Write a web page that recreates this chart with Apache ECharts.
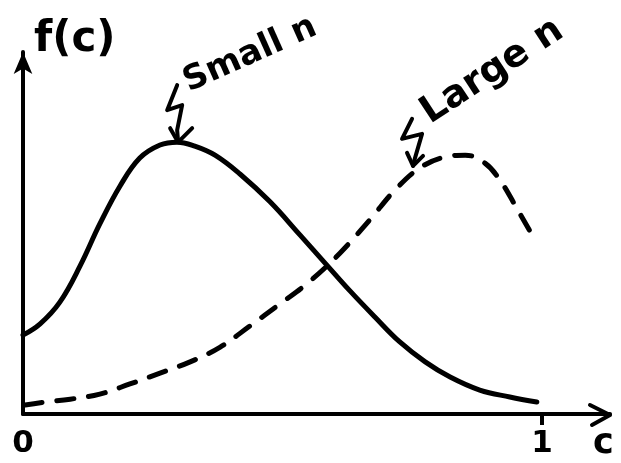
<!DOCTYPE html>
<html>
<head>
<meta charset="utf-8">
<script src="https://cdn.jsdelivr.net/npm/echarts@6/dist/echarts.min.js"></script>
<style>
  html, body { margin: 0; padding: 0; background: #fff; }
  #chart { width: 621px; height: 463px; }
</style>
</head>
<body>
<div id="chart"></div>
<script>
// Density f(c) for a small sample size (solid curve)
const smallC = [0, 0.033, 0.071, 0.110, 0.148, 0.187, 0.225, 0.264, 0.297, 0.331, 0.370, 0.418, 0.476, 0.534, 0.582, 0.630, 0.678, 0.726, 0.775, 0.823, 0.880, 0.938, 0.990];
const smallF = [0.218, 0.249, 0.309, 0.409, 0.525, 0.630, 0.707, 0.743, 0.751, 0.740, 0.715, 0.663, 0.586, 0.494, 0.417, 0.340, 0.268, 0.199, 0.144, 0.102, 0.066, 0.047, 0.033];

// Density f(c) for a large sample size (dashed curve)
const largeC = [0.004, 0.042, 0.091, 0.148, 0.206, 0.264, 0.322, 0.380, 0.437, 0.495, 0.553, 0.611, 0.668, 0.717, 0.765, 0.813, 0.852, 0.890, 0.919, 0.948, 0.983];
const largeF = [0.025, 0.033, 0.041, 0.055, 0.083, 0.113, 0.144, 0.185, 0.243, 0.304, 0.367, 0.445, 0.536, 0.619, 0.680, 0.710, 0.715, 0.693, 0.646, 0.577, 0.489];

// Axis ticks / labels on c
const cTicks = [0, 1];
const cTickLabels = ['0', '1'];
const cTickMarks = [1];
const cAxisEnd = 1.131;

const curveLabels = ['Small n', 'Large n'];

const pairs = (xs, ys) => xs.map((x, i) => [x, ys[i]]);
const smallData = pairs(smallC, smallF);
const largeData = pairs(largeC, largeF);

const ink = '#000';
const hand = '"DejaVu Sans", sans-serif';

const chart = echarts.init(document.getElementById('chart'), null, { renderer: 'canvas' });

chart.setOption({
  backgroundColor: '#fff',
  animation: false,
  grid: { left: 23, right: 11, top: 52, bottom: 49, containLabel: false },
  xAxis: {
    type: 'value',
    min: 0,
    max: cAxisEnd,
    name: 'c',
    nameLocation: 'end',
    nameGap: -17,
    nameTextStyle: {
      color: ink, fontFamily: hand, fontWeight: 'bold', fontSize: 35,
      align: 'left', verticalAlign: 'top', padding: [12, 0, 0, 0]
    },
    splitLine: { show: false },
    axisLine: {
      show: true,
      lineStyle: { color: ink, width: 4, cap: 'round' },
      symbol: ['none', 'none']
    },
    axisTick: {
      show: true,
      customValues: cTickMarks,
      length: 11,
      lineStyle: { color: ink, width: 4 }
    },
    axisLabel: {
      show: true,
      customValues: cTicks,
      formatter: v => cTickLabels[cTicks.indexOf(v)] ?? '',
      color: ink, fontFamily: hand, fontWeight: 'bold', fontSize: 31,
      margin: 14
    }
  },
  yAxis: {
    type: 'value',
    min: 0,
    max: 1,
    name: 'f(c)',
    nameLocation: 'end',
    nameGap: -9,
    nameTextStyle: {
      color: ink, fontFamily: hand, fontWeight: 'bold', fontSize: 42,
      align: 'left', verticalAlign: 'bottom', padding: [0, 0, 0, 11]
    },
    splitLine: { show: false },
    axisTick: { show: false },
    axisLabel: { show: false },
    axisLine: {
      show: true,
      lineStyle: { color: ink, width: 4 },
      symbol: ['none', 'arrow'],
      symbolSize: [14, 22]
    }
  },
  series: [
    {
      name: curveLabels[0],
      type: 'line',
      data: smallData,
      smooth: 0.4,
      showSymbol: false,
      lineStyle: { color: ink, width: 5, cap: 'round', join: 'round' }
    },
    {
      name: curveLabels[1],
      type: 'line',
      data: largeData,
      smooth: 0.4,
      showSymbol: false,
      lineStyle: { color: ink, width: 5, type: [17, 15], cap: 'round', join: 'round' }
    }
  ]
});

// Hand-drawn pointer arrows, labels and the open arrowhead on the c axis
const strokeStyle = { stroke: ink, lineWidth: 4, fill: null, lineCap: 'round', lineJoin: 'round' };

function squiggle(anchor, pts, barbs) {
  const abs = p => [anchor[0] + p[0], anchor[1] + p[1]];
  const tip = pts[pts.length - 1];
  return [
    { type: 'polyline', shape: { points: pts.map(abs) }, style: strokeStyle },
    { type: 'polyline', shape: { points: [abs(barbs[0]), abs(tip), abs(barbs[1])] }, style: strokeStyle }
  ];
}

const peakIdx = smallF.indexOf(Math.max(...smallF));
const smallAnchor = chart.convertToPixel({ gridIndex: 0 }, smallData[peakIdx]);
const largeAnchor = chart.convertToPixel({ gridIndex: 0 }, largeData[14]);
const axisEnd = chart.convertToPixel({ gridIndex: 0 }, [cAxisEnd, 0]);

const graphics = [
  ...squiggle(smallAnchor,
    [[0, -57], [-10, -32], [5, -37], [0, -12], [1, 0]],
    [[-7, -14], [15, -14]]),
  ...squiggle(largeAnchor,
    [[-8, -49], [-18, -29], [2, -34], [-5, -10], [-7, -2]],
    [[-13, -15], [3, -12]]),
  {
    type: 'polyline',
    shape: { points: [[axisEnd[0] - 20, axisEnd[1] - 9], [axisEnd[0], axisEnd[1] + 1], [axisEnd[0] - 18, axisEnd[1] + 11]] },
    style: strokeStyle
  },
  {
    type: 'text',
    x: smallAnchor[0] + 15,
    y: smallAnchor[1] - 43,
    rotation: 0.42,
    style: {
      text: curveLabels[0], fill: ink,
      font: 'bold 34px ' + hand,
      textAlign: 'left', textVerticalAlign: 'bottom'
    }
  },
  {
    type: 'text',
    x: largeAnchor[0] + 15,
    y: largeAnchor[1] - 36,
    rotation: 0.58,
    style: {
      text: curveLabels[1], fill: ink,
      font: 'bold 38px ' + hand,
      textAlign: 'left', textVerticalAlign: 'bottom'
    }
  }
];

chart.setOption({ graphic: graphics });
</script>
</body>
</html>
